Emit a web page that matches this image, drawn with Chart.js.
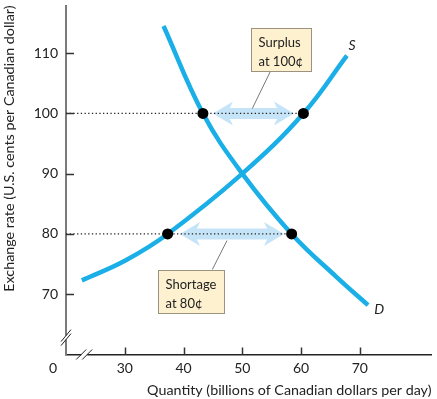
<!DOCTYPE html>
<html>
<head>
<meta charset="utf-8">
<script src="https://cdn.jsdelivr.net/npm/chart.js@4/dist/chart.umd.min.js"></script>
<style>
  body { margin: 0; background: #fff; }
  #wrap { width: 437px; height: 399px; }
</style>
</head>
<body>
<div id="wrap"><canvas id="fx-chart" width="437" height="399"></canvas></div>
<script>
// supply curve S
const supplyQty = [22.7, 30.1, 37.3, 50, 60.4, 67.8];
const supplyRate = [72.3, 75.6, 80, 90, 100, 109.6];
// demand curve D
const demandQty = [36.6, 43.3, 50, 58.4, 66.1, 71.4];
const demandRate = [114.5, 100, 90, 80, 72.8, 68.2];
// marked points (quantity demanded / supplied at 100 and 80 cents)
const pointQty = [43.3, 60.4, 37.3, 58.4];
const pointRate = [100, 100, 80, 80];
// surplus / shortage arrows
const arrowRate = [100, 80];
const arrowFrom = [45, 39.4];
const arrowTo = [58.8, 57.1];
// tick labels
const xTicks = [30, 40, 50, 60, 70];
const yTicks = [70, 80, 90, 100, 110];

const FONT = 'Lato, "DejaVu Sans", sans-serif';
const CURVE = '#1aafe6';
const xMin = 20, xMax = 82.2, yMin = 60, yMax = 117.9;

// callout boxes (top-left corner and leader line in data units)
const notes = [
  { lines: ['Surplus', 'at 100¢'], x: 51.4, y: 114.2, w: 60, h: 43, from: [54.9, 107.2], to: [51.7, 100.8] },
  { lines: ['Shortage', 'at 80¢'], x: 35.6, y: 74.0, w: 66, h: 43, from: [44.9, 74.1], to: [47.4, 78.9] },
];

const toXY = (xs, ys) => xs.map((x, i) => ({ x: x, y: ys[i] }));

function drawArrow(ctx, x1, x2, y) {
  const sh = 5.5, hh = 12, hl = 20;
  ctx.beginPath();
  ctx.moveTo(x1, y);
  ctx.lineTo(x1 + hl, y - hh);
  ctx.lineTo(x1 + hl - 3, y - sh);
  ctx.lineTo(x2 - hl + 3, y - sh);
  ctx.lineTo(x2 - hl, y - hh);
  ctx.lineTo(x2, y);
  ctx.lineTo(x2 - hl, y + hh);
  ctx.lineTo(x2 - hl + 3, y + sh);
  ctx.lineTo(x1 + hl - 3, y + sh);
  ctx.lineTo(x1 + hl, y + hh);
  ctx.closePath();
  ctx.fill();
}

const extras = {
  id: 'extras',
  beforeDatasetsDraw(chart) {
    const { ctx, scales: { x, y } } = chart;
    ctx.save();
    ctx.fillStyle = '#c6e4f7';
    arrowRate.forEach((r, i) => {
      drawArrow(ctx, x.getPixelForValue(arrowFrom[i]), x.getPixelForValue(arrowTo[i]), y.getPixelForValue(r));
    });
    ctx.restore();
  },
  afterDraw(chart) {
    const { ctx, scales: { x, y } } = chart;
    const x0 = x.getPixelForValue(xMin);
    const y0 = y.getPixelForValue(yMin);
    ctx.save();

    // tick marks pointing into the plot
    ctx.strokeStyle = '#333';
    ctx.lineWidth = 1.5;
    yTicks.forEach(v => {
      const py = Math.round(y.getPixelForValue(v)) + 0.5;
      ctx.beginPath(); ctx.moveTo(x0, py); ctx.lineTo(x0 + 8, py); ctx.stroke();
    });
    xTicks.forEach(v => {
      const px = Math.round(x.getPixelForValue(v)) + 0.5;
      ctx.beginPath(); ctx.moveTo(px, y0); ctx.lineTo(px, y0 - 7); ctx.stroke();
    });

    // axis breaks
    const by = y.getPixelForValue(62.8);
    const bx = x.getPixelForValue(23.1);
    ctx.fillStyle = '#fff';
    ctx.fillRect(x0 - 3, by - 2, 6, 4);
    ctx.fillRect(bx - 3, y0 - 3, 6, 6);
    ctx.strokeStyle = '#222';
    ctx.lineWidth = 1;
    [-2, 2].forEach(d => {
      ctx.beginPath(); ctx.moveTo(x0 - 5, by + d + 6); ctx.lineTo(x0 + 5, by + d - 6); ctx.stroke();
      ctx.beginPath(); ctx.moveTo(bx + d * 1.5 - 5, y0 + 5); ctx.lineTo(bx + d * 1.5 + 5, y0 - 5); ctx.stroke();
    });

    // origin label
    ctx.fillStyle = '#222';
    ctx.font = '14px ' + FONT;
    ctx.textAlign = 'center';
    ctx.textBaseline = 'middle';
    ctx.fillText('0', x0 - 13, y0 + 14);

    // curve labels
    ctx.font = 'italic 14px ' + FONT;
    ctx.fillText('S', x.getPixelForValue(68.7), y.getPixelForValue(111.2));
    ctx.fillText('D', x.getPixelForValue(73.3), y.getPixelForValue(67.5));

    // callouts
    notes.forEach(n => {
      ctx.strokeStyle = '#555';
      ctx.lineWidth = 0.8;
      ctx.beginPath();
      ctx.moveTo(x.getPixelForValue(n.from[0]), y.getPixelForValue(n.from[1]));
      ctx.lineTo(x.getPixelForValue(n.to[0]), y.getPixelForValue(n.to[1]));
      ctx.stroke();
      const bx0 = Math.round(x.getPixelForValue(n.x)) + 0.5;
      const by0 = Math.round(y.getPixelForValue(n.y)) + 0.5;
      ctx.fillStyle = '#fdf1cf';
      ctx.fillRect(bx0, by0, n.w, n.h);
      ctx.strokeStyle = '#9c9280';
      ctx.lineWidth = 1;
      ctx.strokeRect(bx0, by0, n.w, n.h);
      ctx.fillStyle = '#222';
      ctx.font = '13px ' + FONT;
      ctx.textAlign = 'left';
      n.lines.forEach((t, i) => ctx.fillText(t, bx0 + 7, by0 + 14 + i * 19));
    });
    ctx.restore();
  },
};

const dotted = pointQty.filter((q, i) => i % 2 === 1).map((q, i) => ({
  type: 'line',
  data: [{ x: xMin, y: pointRate[i * 2 + 1] }, { x: q, y: pointRate[i * 2 + 1] }],
  borderColor: '#222',
  borderWidth: 1.2,
  borderDash: [1.3, 2.4],
  pointRadius: 0,
}));

new Chart(document.getElementById('fx-chart').getContext('2d'), {
  type: 'line',
  data: {
    datasets: [
      {
        type: 'scatter',
        data: toXY(pointQty, pointRate),
        pointRadius: 5.5,
        pointBackgroundColor: '#000',
        pointBorderWidth: 0,
        showLine: false,
      },
      {
        data: toXY(supplyQty, supplyRate),
        borderColor: CURVE,
        borderWidth: 4.5,
        pointRadius: 0,
        tension: 0.4,
      },
      {
        data: toXY(demandQty, demandRate),
        borderColor: CURVE,
        borderWidth: 4.5,
        pointRadius: 0,
        tension: 0.4,
      },
      ...dotted,
    ],
  },
  options: {
    responsive: false,
    animation: false,
    layout: { padding: { top: 3, right: 2, left: 0, bottom: 0 } },
    plugins: { legend: { display: false }, tooltip: { enabled: false } },
    scales: {
      x: {
        type: 'linear',
        min: xMin,
        max: xMax,
        afterBuildTicks: s => { s.ticks = xTicks.map(v => ({ value: v })); },
        afterFit: s => { s.height = 44.5; s.paddingLeft = 0; s.paddingRight = 0; },
        grid: { display: false, drawTicks: false },
        border: { color: '#222', width: 1.5 },
        ticks: { color: '#222', padding: 6, font: { family: FONT, size: 14 } },
        title: {
          display: true,
          text: 'Quantity (billions of Canadian dollars per day)',
          align: 'end',
          color: '#222',
          font: { family: FONT, size: 14.3 },
          padding: { top: 0, bottom: 0 },
        },
      },
      y: {
        min: yMin,
        max: yMax,
        afterBuildTicks: s => { s.ticks = yTicks.map(v => ({ value: v })); },
        afterFit: s => { s.width = 66; s.paddingTop = 0; s.paddingBottom = 0; },
        grid: { display: false, drawTicks: false },
        border: { color: '#7a7a7a', width: 2 },
        ticks: { color: '#222', padding: 8, font: { family: FONT, size: 14 } },
        title: {
          display: true,
          text: 'Exchange rate (U.S. cents per Canadian dollar)',
          align: 'end',
          color: '#222',
          font: { family: FONT, size: 14.3 },
          padding: { top: 1, bottom: 0 },
        },
      },
    },
  },
  plugins: [extras],
});
</script>
</body>
</html>
